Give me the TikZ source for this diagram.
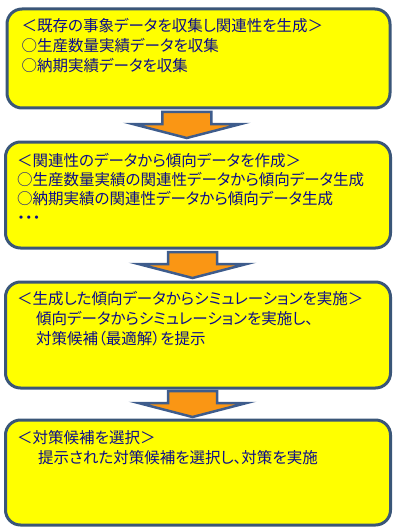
\documentclass[tikz,border=0pt]{standalone}
\usepackage{fontspec}
\setmainfont{Noto Sans CJK JP}[RawFeature=+palt]
\usepackage{tikz}
\usetikzlibrary{calc}
\definecolor{boxfill}{RGB}{255,255,0}
\definecolor{boxedge}{RGB}{58,86,120}
\definecolor{arrowfill}{RGB}{250,150,20}
\definecolor{arrowedge}{RGB}{62,92,140}
\definecolor{textnavy}{RGB}{12,12,140}
\newcommand{\flowarrow}[3]{%
  \coordinate (mid) at ($(#1.south)!0.5!(#2.north)+(#3,0)$);
  \draw[arrowbody] ([shift={(-24.5pt,13pt)}]mid) -- ++(0pt,-12pt) -- ++(-29.5pt,0pt) -- ++(54pt,-14pt) -- ++(54pt,14pt) -- ++(-29.5pt,0pt) -- ++(0pt,12pt) -- cycle;}

\begin{document}
\begin{tikzpicture}[x=1pt,y=-1pt,
  stepbox/.style={rectangle,rounded corners=15pt,fill=boxfill,draw=boxedge,line width=3pt,minimum width=385pt,inner sep=0pt},
  steptext/.style={anchor=north west,inner sep=0pt,align=left,text=textnavy,font=\fontsize{15.5pt}{20pt}\selectfont},
  arrowbody/.style={fill=arrowfill,draw=arrowedge,line width=2.5pt,line join=miter}]
\useasboundingbox (0,0) rectangle (407,532);
\node[stepbox,minimum width=383pt,minimum height=99pt] (collect) at (198.5,58.5) {};
\node[stepbox,minimum height=106pt] (trend) at (198,195) {};
\node[stepbox,minimum height=106pt] (simulate) at (198,335) {};
\node[stepbox,minimum height=105pt] (select) at (198,472.5) {};
\node[steptext] (collecttext) at ([shift={(16pt,-11pt)}]collect.north west) {＜既存の事象データを収集し関連性を生成＞\\○生産数量実績データを収集\\○納期実績データを収集};
\node[steptext,font=\fontsize{15.5pt}{19pt}\selectfont] (trendtext) at ([shift={(13pt,-12.5pt)}]trend.north west) {＜関連性のデータから傾向データを作成＞\\○生産数量実績の関連性データから傾向データ生成\\○納期実績の関連性データから傾向データ生成\\・・・};
\node[steptext] (simulatetext) at ([shift={(13pt,-11pt)}]simulate.north west) {＜生成した傾向データからシミュレーションを実施＞\\\hspace*{19pt}傾向データからシミュレーションを実施し、\\\hspace*{19pt}対策候補（最適解）を提示};
\node[steptext] (selecttext) at ([shift={(13pt,-11.5pt)}]select.north west) {＜対策候補を選択＞\\\hspace*{21pt}提示された対策候補を選択し、対策を実施};
\flowarrow{collect}{trend}{-11.5}
\flowarrow{trend}{simulate}{-5.5}
\flowarrow{simulate}{select}{-5.5}
\end{tikzpicture}
\end{document}
